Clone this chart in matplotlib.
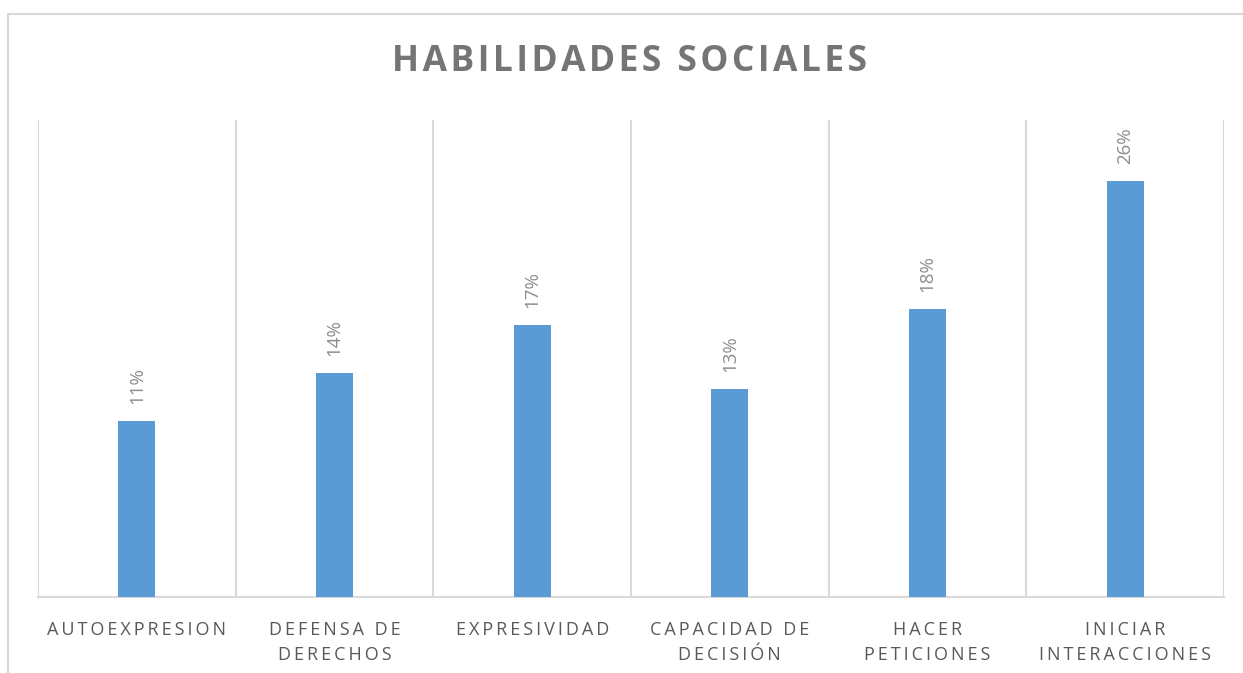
import numpy as np
import matplotlib
matplotlib.use('Agg')
import matplotlib.pyplot as plt
from matplotlib.patches import Rectangle

plt.rcParams['font.family'] = ['Open Sans', 'DejaVu Sans']

# Survey results per social skill (percent)
categories = ['AUTOEXPRESION', 'DEFENSA DE\nDERECHOS', 'EXPRESIVIDAD',
              'CAPACIDAD DE\nDECISIÓN', 'HACER\nPETICIONES', 'INICIAR\nINTERACCIONES']
values = [11, 14, 17, 13, 18, 26]
title = 'HABILIDADES SOCIALES'


def spaced(text, sep='\u2009'):
    # widen the tracking by putting a thin space between every letter
    return '\n'.join(sep.join(line) for line in text.split('\n'))


fig = plt.figure(figsize=(12.43, 6.73), dpi=100)
ax = fig.add_axes([38 / 1243, 1 - 597 / 673, (1224 - 38) / 1243, (597 - 120) / 673])

# outer chart frame
fig.patches.append(Rectangle((8 / 1243, -0.05), 1.1, 1.05 - 14 / 673,
                             transform=fig.transFigure, fill=False,
                             edgecolor='#d9d9d9', linewidth=1.5))

x = np.arange(len(categories))
ax.bar(x, values, width=0.187, color='#5b9bd5', zorder=3)

for xi, v in zip(x, values):
    ax.annotate(f'{v}%', (xi, v), xytext=(0, 12), textcoords='offset points',
                rotation=90, ha='center', va='bottom', fontsize=13.5, color='#8c8c8c')

ax.set_xlim(-0.5, len(categories) - 0.5)
ax.set_ylim(0, 29.8)
ax.set_yticks([])
ax.set_xticks(x)
ax.set_xticklabels([spaced(c) for c in categories], fontsize=13, color='#595959',
                   linespacing=1.55)
ax.tick_params(axis='x', length=0, pad=17)

# category separators
ax.set_xticks(np.arange(-0.5, len(categories)), minor=True)
ax.tick_params(axis='x', which='minor', length=0)
ax.grid(True, which='minor', axis='x', color='#d9d9d9', linewidth=1.5, zorder=0)

for side in ['top', 'left', 'right']:
    ax.spines[side].set_visible(False)
ax.spines['bottom'].set_color('#d9d9d9')
ax.spines['bottom'].set_linewidth(1.5)

fig.text(629 / 1243, 1 - 62 / 673, spaced(title, '\u200a'), ha='center', va='center',
         fontsize=25.5, fontweight='bold', color='#757575')

fig.savefig('out.png', dpi=100)
